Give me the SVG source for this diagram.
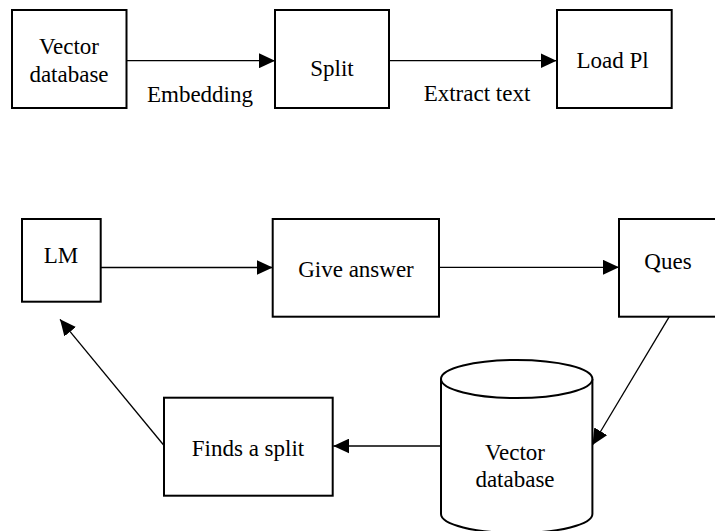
<svg xmlns="http://www.w3.org/2000/svg" width="715" height="531" viewBox="0 0 715 531">
<style>
.box{fill:#fff;stroke:#000;stroke-width:2}
.ln{fill:none;stroke:#000;stroke-width:1.3}
.t{font-family:'Liberation Serif',serif !important;font-size:23px;text-anchor:middle;fill:#000}
</style>
<defs>
<marker id="ah" viewBox="0 0 16 15" refX="16" refY="7.5" markerWidth="16" markerHeight="15" markerUnits="userSpaceOnUse" orient="auto">
<path d="M0,0 L16,7.5 L0,15 Z" fill="#000"/>
</marker>
</defs>
<rect width="715" height="531" fill="#fff"/>
<g id="connectors">
<line class="ln" x1="126" y1="60.7" x2="275" y2="60.7" marker-end="url(#ah)"/>
<line class="ln" x1="389" y1="60.7" x2="556.5" y2="60.7" marker-end="url(#ah)"/>
<line class="ln" x1="100.7" y1="267.5" x2="272.7" y2="267.5" marker-end="url(#ah)"/>
<line class="ln" x1="439" y1="267.3" x2="619" y2="267.3" marker-end="url(#ah)"/>
<line class="ln" x1="669.3" y1="316.7" x2="592.5" y2="445" marker-end="url(#ah)"/>
<line class="ln" x1="441" y1="446" x2="333.3" y2="446" marker-end="url(#ah)"/>
<line class="ln" x1="164" y1="445.5" x2="60" y2="319.3" marker-end="url(#ah)"/>
<text class="t" x="200" y="101.7">Embedding</text>
<text class="t" x="477" y="101">Extract text</text>
</g>
<g id="n1"><rect class="box" x="12" y="10" width="114.5" height="98"/><text class="t" style="font-family:'Liberation Serif',serif" x="69" y="54">Vector</text><text class="t" style="font-family:'Liberation Serif',serif" x="69" y="82">database</text></g>
<g id="n2"><rect class="box" x="275" y="10" width="114" height="98"/><text class="t" style="font-family:'Liberation Serif',serif" x="332" y="76">Split</text></g>
<g id="n3"><rect class="box" x="557" y="10" width="114.7" height="98"/><text class="t" style="font-family:'Liberation Serif',serif" x="612.5" y="67.7">Load Pl</text></g>
<g id="n4"><rect class="box" x="22" y="219" width="78.7" height="82.7"/><text class="t" style="font-family:'Liberation Serif',serif" x="61" y="262.7">LM</text></g>
<g id="n5"><rect class="box" x="272.7" y="219" width="166.3" height="97.7"/><text class="t" style="font-family:'Liberation Serif',serif" x="356" y="276.7">Give answer</text></g>
<g id="n6"><rect class="box" x="619" y="219" width="110" height="97.7"/><text class="t" style="font-family:'Liberation Serif',serif" x="668" y="269.3">Ques</text></g>
<g id="n7">
<path class="box" d="M441,379 L441,514 A75.7,19 0 0 0 592.4,514 L592.4,379 A75.7,19 0 0 0 441,379 Z"/>
<path class="box" fill="none" d="M441,379 A75.7,19 0 0 0 592.4,379"/>
<text class="t" style="font-family:'Liberation Serif',serif" x="515" y="460">Vector</text><text class="t" style="font-family:'Liberation Serif',serif" x="515" y="486.7">database</text>
</g>
<g id="n8"><rect class="box" x="164" y="397.7" width="168.7" height="98"/><text class="t" style="font-family:'Liberation Serif',serif" x="248" y="455.7">Finds a split</text></g>
</svg>
